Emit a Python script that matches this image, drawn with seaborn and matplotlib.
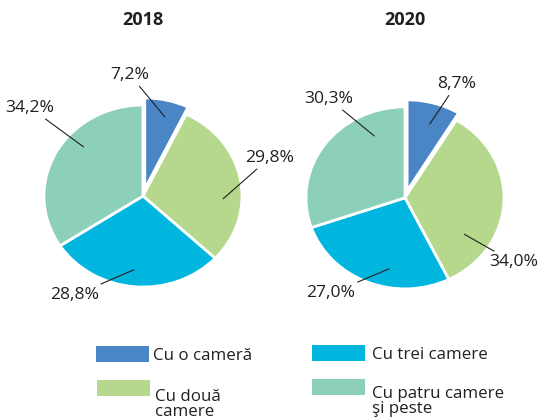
import matplotlib
matplotlib.use("Agg")
import matplotlib.pyplot as plt
from matplotlib.patches import Rectangle
import seaborn as sns

# data
categories = ["Cu o cameră", "Cu două\ncamere", "Cu trei camere", "Cu patru camere\nşi peste"]
years = ["2018", "2020"]
shares_2018 = [7.2, 29.8, 28.8, 34.2]
shares_2020 = [8.7, 34.0, 27.0, 30.3]
colors = ["#4a86c6", "#b5d88c", "#00b5de", "#8ccfba"]

sns.set_theme(style="white")
plt.rcParams["font.family"] = ["Open Sans", "DejaVu Sans"]
dark = "#231f20"
W, H = 542, 419

# where the % labels sit and where their lines end (in pie radii from centre)
label_pos = [[(-0.13, 1.33), (1.28, 0.42), (-0.69, -1.09), (-1.14, 0.97)],
             [(0.52, 1.25), (1.10, -0.71), (-0.75, -1.05), (-0.77, 1.09)]]
anchor_pos = [[(0.22, 0.87), (0.81, -0.03), (-0.09, -0.81), (-0.60, 0.54)],
              [(0.25, 0.81), (0.60, -0.40), (-0.16, -0.78), (-0.31, 0.68)]]
centers = [(0, 0), (2.646, -0.02)]

fig = plt.figure(figsize=(W / 100, H / 100), dpi=100)
ax = fig.add_axes([0, 0, 1, 1])

for k, shares in enumerate([shares_2018, shares_2020]):
    cx, cy = centers[k]
    ax.pie(shares, colors=colors, startangle=90, counterclock=False,
           explode=[0.08, 0, 0, 0], center=(cx, cy), radius=1,
           wedgeprops=dict(edgecolor="white", linewidth=2))
    for v, (tx, ty), (px, py) in zip(shares, label_pos[k], anchor_pos[k]):
        ax.annotate(f"{v:.1f}%".replace(".", ","), xy=(cx + px, cy + py),
                    xytext=(cx + tx, cy + ty), ha="center", va="center",
                    fontsize=12.6, color=dark,
                    arrowprops=dict(arrowstyle="-", color=dark, lw=0.8,
                                    shrinkA=0, shrinkB=0))
    ax.text(cx, 1.934, years[k], ha="center", va="center", fontsize=13,
            fontweight="bold", color=dark)

ax.set_aspect("auto")
ax.set_xlim(-1.444, 4.03)
ax.set_ylim(-2.45, 2.154)
ax.axis("off")

# legend, drawn by hand: box (left, top) and last-line baseline, in pixels
leg_box = [(96, 346), (97, 380), (312, 345), (312, 379)]
leg_text = [(153, 360), (155, 416), (372, 359), (372, 413)]
for c, lab, (bx, by), (lx, ly) in zip(colors, categories, leg_box, leg_text):
    fig.add_artist(Rectangle((bx / W, 1 - (by + 16) / H), 53 / W, 16 / H,
                             facecolor=c, edgecolor="none",
                             transform=fig.transFigure))
    fig.text(lx / W, 1 - ly / H, lab, ha="left", va="baseline",
             fontsize=12.2, color=dark, linespacing=0.95)

fig.savefig("out.png", dpi=100)
